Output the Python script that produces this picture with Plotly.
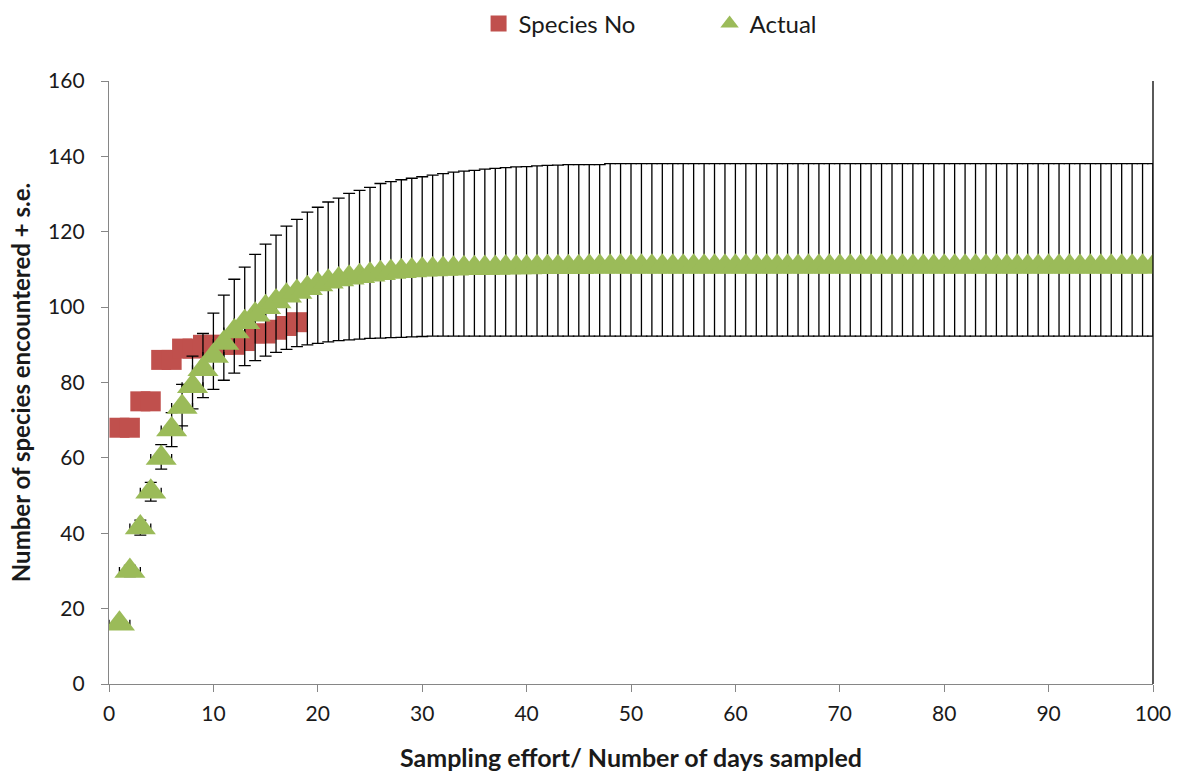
import plotly.graph_objects as go

# Sampling effort (days) and observed species per day
days_observed = list(range(1, 19))
species_no = [68, 68, 75, 75, 86, 86, 89, 89, 90, 90, 90, 90, 91, 93, 93, 94, 95, 96]

# Randomised species-accumulation curve with its standard-error envelope
days = list(range(1, 101))
actual = [
    16, 30, 41.5, 51, 60, 67.5, 73.5, 79, 83.5, 87,
    90.5, 93.5, 96, 98, 100, 101.5, 103, 104, 105, 106,
    106.7, 107.3, 107.8, 108.2, 108.6, 109, 109.3, 109.5, 109.7, 109.9,
    110, 110.1, 110.2, 110.3, 110.3, 110.4, 110.4, 110.5, 110.5, 110.5,
    110.6, 110.6, 110.6, 110.6, 110.6,
] + [110.7] * 55
upper_se = [
    17, 31.5, 43.5, 53.5, 63.5, 72, 79.5, 87, 93, 98.4,
    103.2, 107.4, 110.6, 114, 116.7, 119.1, 121.5, 123.3, 125.2, 126.5,
    127.9, 128.9, 130.2, 131, 131.8, 132.8, 133.3, 133.8, 134.2, 134.6,
    135, 135.4, 135.8, 136.1, 136.3, 136.6, 136.8, 137, 137.2, 137.3,
    137.5, 137.6, 137.7, 137.8, 137.8, 137.8, 137.8,
] + [138.1] * 53
lower_se = [
    15, 28.5, 39.5, 48.5, 57, 63, 68.5, 73, 76, 78.2,
    80.6, 82.5, 84.5, 85.8, 87, 88, 88.8, 89.5, 90, 90.4,
    90.8, 91.1, 91.3, 91.5, 91.7, 91.8, 91.9, 92, 92.1, 92.2,
] + [92.3] * 70
day_error = [1] * 100

err_plus = [u - a for u, a in zip(upper_se, actual)]
err_minus = [a - l for a, l in zip(actual, lower_se)]

RED = "#C0504D"
GREEN = "#9BBB59"
FONT = "Lato, 'Open Sans', sans-serif"
INK = "#1a1a1a"

fig = go.Figure()

fig.add_trace(go.Scatter(
    x=days_observed, y=species_no, mode="markers", name="Species No",
    marker=dict(symbol="square", size=20, color=RED),
))

fig.add_trace(go.Scatter(
    x=days, y=actual, mode="markers", name="Actual",
    marker=dict(symbol="triangle-up", size=27, color=GREEN),
    error_y=dict(type="data", symmetric=False, array=err_plus, arrayminus=err_minus,
                 color="black", thickness=1.3, width=6),
    error_x=dict(type="data", array=day_error, color="black", thickness=1.3, width=4),
))

axis_common = dict(
    showgrid=False, zeroline=False, showline=True, linecolor="#868686", linewidth=1.3,
    ticks="outside", ticklen=7, tickcolor="#868686", tickwidth=1.3,
    tickfont=dict(family=FONT, size=21, color=INK),
)

fig.update_layout(
    width=1184, height=772,
    margin=dict(l=109, r=31, t=81, b=88, autoexpand=False),
    paper_bgcolor="white", plot_bgcolor="white",
    showlegend=True,
    legend=dict(orientation="h", x=0.354, xanchor="left", y=1.0945, yanchor="middle",
                font=dict(family=FONT, size=24, color=INK),
                entrywidth=186, entrywidthmode="pixels"),
    xaxis=dict(range=[0, 100], dtick=10, ticklabelstandoff=4, **axis_common,
               title=dict(text="<b>Sampling effort/ Number of days sampled</b>",
                          font=dict(family=FONT, size=25, color=INK), standoff=25)),
    yaxis=dict(range=[0, 160], dtick=20, ticklabelstandoff=12, **axis_common,
               title=dict(text="<b>Number of species encountered + s.e.</b>",
                          font=dict(family=FONT, size=24, color=INK), standoff=10)),
    shapes=[dict(type="line", xref="paper", yref="paper", x0=1, x1=1, y0=0, y1=1,
                 line=dict(color="black", width=1.3))],
)

fig.write_html("out.html")
